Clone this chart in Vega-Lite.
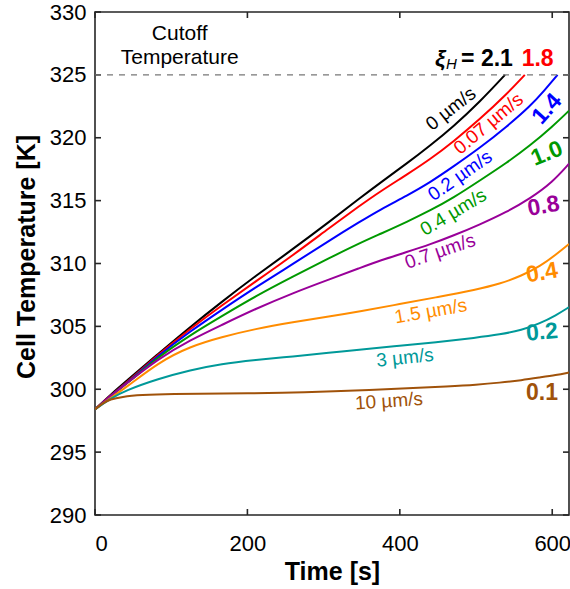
{
  "$schema": "https://vega.github.io/schema/vega-lite/v6.json",
  "width": 474,
  "height": 503,
  "autosize": {"type": "none"},
  "padding": {"left": 95, "top": 12, "right": 1, "bottom": 74},
  "background": "white",
  "config": {
    "view": {"stroke": "#262626", "strokeWidth": 1.6},
    "font": "Liberation Sans",
    "axis": {
      "grid": false, "domain": false,
      "labelFont": "Liberation Sans", "labelFontSize": 22, "labelColor": "#000000",
      "titleFont": "Liberation Sans", "titleFontSize": 25, "titleFontWeight": "bold", "titleColor": "#000000"
    },
    "text": {"font": "Liberation Sans"}
  },
  "datasets": {
    "curves": [
      {"s":"0","t":0,"T":298.4},{"s":"0","t":20,"T":299.55},{"s":"0","t":40,"T":300.6},{"s":"0","t":83,"T":302.82},{"s":"0","t":125,"T":304.96},{"s":"0","t":166,"T":306.94},{"s":"0","t":210,"T":308.98},{"s":"0","t":260,"T":311.16},{"s":"0","t":308,"T":313.34},{"s":"0","t":348,"T":315.22},{"s":"0","t":374,"T":316.41},{"s":"0","t":410,"T":317.99},{"s":"0","t":440,"T":319.39},{"s":"0","t":470,"T":320.88},{"s":"0","t":505,"T":322.86},{"s":"0","t":538,"T":325.0},
      {"s":"0.07","t":0,"T":298.4},{"s":"0.07","t":20,"T":299.5},{"s":"0.07","t":40,"T":300.45},{"s":"0.07","t":83,"T":302.77},{"s":"0.07","t":125,"T":304.81},{"s":"0.07","t":166,"T":306.65},{"s":"0.07","t":210,"T":308.53},{"s":"0.07","t":260,"T":310.67},{"s":"0.07","t":308,"T":312.85},{"s":"0.07","t":348,"T":314.62},{"s":"0.07","t":374,"T":315.72},{"s":"0.07","t":410,"T":317.1},{"s":"0.07","t":440,"T":318.3},{"s":"0.07","t":470,"T":319.68},{"s":"0.07","t":505,"T":321.47},{"s":"0.07","t":540,"T":323.45},{"s":"0.07","t":564,"T":325.0},
      {"s":"0.2","t":0,"T":298.4},{"s":"0.2","t":20,"T":299.45},{"s":"0.2","t":40,"T":300.4},{"s":"0.2","t":83,"T":302.68},{"s":"0.2","t":125,"T":304.61},{"s":"0.2","t":166,"T":306.3},{"s":"0.2","t":210,"T":308.08},{"s":"0.2","t":260,"T":309.97},{"s":"0.2","t":308,"T":311.85},{"s":"0.2","t":348,"T":313.34},{"s":"0.2","t":374,"T":314.28},{"s":"0.2","t":410,"T":315.42},{"s":"0.2","t":440,"T":316.46},{"s":"0.2","t":470,"T":317.7},{"s":"0.2","t":505,"T":319.19},{"s":"0.2","t":540,"T":320.87},{"s":"0.2","t":571,"T":322.5},{"s":"0.2","t":590,"T":323.78},{"s":"0.2","t":607,"T":325.0},
      {"s":"0.4","t":0,"T":298.4},{"s":"0.4","t":20,"T":299.45},{"s":"0.4","t":40,"T":300.35},{"s":"0.4","t":83,"T":302.58},{"s":"0.4","t":125,"T":304.31},{"s":"0.4","t":166,"T":305.8},{"s":"0.4","t":210,"T":307.38},{"s":"0.4","t":260,"T":308.97},{"s":"0.4","t":308,"T":310.45},{"s":"0.4","t":348,"T":311.64},{"s":"0.4","t":374,"T":312.34},{"s":"0.4","t":410,"T":313.33},{"s":"0.4","t":440,"T":314.22},{"s":"0.4","t":470,"T":315.21},{"s":"0.4","t":505,"T":316.6},{"s":"0.4","t":540,"T":317.99},{"s":"0.4","t":571,"T":319.38},{"s":"0.4","t":600,"T":320.87},{"s":"0.4","t":622,"T":322.15},
      {"s":"0.7","t":0,"T":298.4},{"s":"0.7","t":20,"T":299.45},{"s":"0.7","t":40,"T":300.4},{"s":"0.7","t":83,"T":302.43},{"s":"0.7","t":125,"T":303.91},{"s":"0.7","t":166,"T":305.1},{"s":"0.7","t":210,"T":306.38},{"s":"0.7","t":260,"T":307.66},{"s":"0.7","t":308,"T":308.75},{"s":"0.7","t":348,"T":309.65},{"s":"0.7","t":374,"T":310.24},{"s":"0.7","t":410,"T":310.93},{"s":"0.7","t":440,"T":311.52},{"s":"0.7","t":470,"T":312.21},{"s":"0.7","t":505,"T":313.1},{"s":"0.7","t":540,"T":314.09},{"s":"0.7","t":571,"T":315.17},{"s":"0.7","t":600,"T":316.45},{"s":"0.7","t":622,"T":317.93},
      {"s":"1.5","t":0,"T":298.4},{"s":"1.5","t":20,"T":299.3},{"s":"1.5","t":40,"T":300.1},{"s":"1.5","t":83,"T":302.13},{"s":"1.5","t":125,"T":303.41},{"s":"1.5","t":166,"T":304.15},{"s":"1.5","t":210,"T":304.8},{"s":"1.5","t":260,"T":305.34},{"s":"1.5","t":308,"T":305.79},{"s":"1.5","t":348,"T":306.19},{"s":"1.5","t":400,"T":306.78},{"s":"1.5","t":450,"T":307.33},{"s":"1.5","t":500,"T":307.92},{"s":"1.5","t":531,"T":308.37},{"s":"1.5","t":560,"T":309.03},{"s":"1.5","t":584,"T":309.77},{"s":"1.5","t":605,"T":310.71},{"s":"1.5","t":622,"T":311.55},
      {"s":"3","t":0,"T":298.4},{"s":"3","t":20,"T":299.25},{"s":"3","t":40,"T":299.9},{"s":"3","t":83,"T":300.83},{"s":"3","t":125,"T":301.52},{"s":"3","t":166,"T":302.02},{"s":"3","t":210,"T":302.32},{"s":"3","t":260,"T":302.61},{"s":"3","t":308,"T":302.91},{"s":"3","t":348,"T":303.16},{"s":"3","t":400,"T":303.46},{"s":"3","t":450,"T":303.75},{"s":"3","t":500,"T":304.1},{"s":"3","t":531,"T":304.35},{"s":"3","t":560,"T":304.7},{"s":"3","t":584,"T":305.24},{"s":"3","t":605,"T":305.88},{"s":"3","t":622,"T":306.53},
      {"s":"10","t":0,"T":298.4},{"s":"10","t":10,"T":298.88},{"s":"10","t":20,"T":299.2},{"s":"10","t":35,"T":299.4},{"s":"10","t":60,"T":299.55},{"s":"10","t":100,"T":299.63},{"s":"10","t":166,"T":299.65},{"s":"10","t":250,"T":299.72},{"s":"10","t":308,"T":299.82},{"s":"10","t":400,"T":300.04},{"s":"10","t":466,"T":300.24},{"s":"10","t":500,"T":300.36},{"s":"10","t":531,"T":300.52},{"s":"10","t":560,"T":300.72},{"s":"10","t":584,"T":300.94},{"s":"10","t":605,"T":301.13},{"s":"10","t":622,"T":301.33}
    ],
    "xticks": [{"t": 0}, {"t": 200}, {"t": 400}, {"t": 600}],
    "yticks": [{"T": 290}, {"T": 295}, {"T": 300}, {"T": 305}, {"T": 310}, {"T": 315}, {"T": 320}, {"T": 325}, {"T": 330}]
  },
  "layer": [
    {
      "data": {"name": "curves"},
      "mark": {"type": "line", "strokeWidth": 2, "interpolate": "basis", "clip": true},
      "encoding": {
        "x": {"field": "t", "type": "quantitative", "scale": {"domain": [0, 622], "nice": false, "zero": false},
              "axis": {"orient": "bottom", "values": [0, 200, 400, 600], "title": "Time [s]", "ticks": false, "labelPadding": 18, "titleY": 64, "titleBaseline": "alphabetic"}},
        "y": {"field": "T", "type": "quantitative", "scale": {"domain": [290, 330], "nice": false, "zero": false},
              "axis": {"orient": "left", "values": [290, 295, 300, 305, 310, 315, 320, 325, 330], "title": "Cell Temperature [K]", "ticks": false, "labelPadding": 9, "titleX": -60.5, "titleY": 244.5, "titleBaseline": "alphabetic", "titleAngle": -90}},
        "color": {"field": "s", "type": "nominal", "legend": null,
                  "scale": {"domain": ["0", "0.07", "0.2", "0.4", "0.7", "1.5", "3", "10"],
                            "range": ["#000000", "#FF0000", "#0000FF", "#009900", "#990099", "#FF8C00", "#009999", "#A0520A"]}},
        "order": {"field": "t", "type": "quantitative"}
      }
    },
    {
      "data": {"name": "xticks"},
      "mark": {"type": "rule", "color": "#262626", "strokeWidth": 1.6, "y2Offset": -6},
      "encoding": {"x": {"field": "t", "type": "quantitative"}, "y": {"datum": 290}, "y2": {"datum": 290}}
    },
    {
      "data": {"name": "xticks"},
      "mark": {"type": "rule", "color": "#262626", "strokeWidth": 1.6, "y2Offset": 6},
      "encoding": {"x": {"field": "t", "type": "quantitative"}, "y": {"datum": 330}, "y2": {"datum": 330}}
    },
    {
      "data": {"name": "yticks"},
      "mark": {"type": "rule", "color": "#262626", "strokeWidth": 1.6, "x2Offset": 6},
      "encoding": {"y": {"field": "T", "type": "quantitative"}, "x": {"datum": 0}, "x2": {"datum": 0}}
    },
    {
      "data": {"name": "yticks"},
      "mark": {"type": "rule", "color": "#262626", "strokeWidth": 1.6, "x2Offset": -6},
      "encoding": {"y": {"field": "T", "type": "quantitative"}, "x": {"datum": 622}, "x2": {"datum": 622}}
    },
    {
      "data": {"values": [{"T": 325}]},
      "mark": {"type": "rule", "strokeDash": [6, 6], "color": "#777777", "strokeWidth": 1.2},
      "encoding": {"y": {"field": "T", "type": "quantitative"}}
    },
    {
      "data": {"values": [{"t": 111.1, "T": 327.74, "label": "Cutoff"}, {"t": 111.1, "T": 325.89, "label": "Temperature"}]},
      "mark": {"type": "text", "fontSize": 21, "align": "center", "baseline": "alphabetic", "color": "#000000"},
      "encoding": {"x": {"field": "t", "type": "quantitative"}, "y": {"field": "T", "type": "quantitative"}, "text": {"field": "label"}}
    },
    {
      "data": {"values": [{"t": 466.9, "T": 322.29, "label": "0 µm/s"}]},
      "mark": {"type": "text", "fontSize": 19, "align": "center", "baseline": "middle", "angle": -38, "color": "#000000"},
      "encoding": {"x": {"field": "t", "type": "quantitative"}, "y": {"field": "T", "type": "quantitative"}, "text": {"field": "label"}}
    },
    {
      "data": {"values": [{"t": 516.3, "T": 321.12, "label": "0.07 µm/s"}]},
      "mark": {"type": "text", "fontSize": 19, "align": "center", "baseline": "middle", "angle": -40, "color": "#FF0000"},
      "encoding": {"x": {"field": "t", "type": "quantitative"}, "y": {"field": "T", "type": "quantitative"}, "text": {"field": "label"}}
    },
    {
      "data": {"values": [{"t": 479.1, "T": 316.99, "label": "0.2 µm/s"}]},
      "mark": {"type": "text", "fontSize": 19, "align": "center", "baseline": "middle", "angle": -35, "color": "#0000FF"},
      "encoding": {"x": {"field": "t", "type": "quantitative"}, "y": {"field": "T", "type": "quantitative"}, "text": {"field": "label"}}
    },
    {
      "data": {"values": [{"t": 470.3, "T": 314.07, "label": "0.4 µm/s"}]},
      "mark": {"type": "text", "fontSize": 19, "align": "center", "baseline": "middle", "angle": -31, "color": "#009900"},
      "encoding": {"x": {"field": "t", "type": "quantitative"}, "y": {"field": "T", "type": "quantitative"}, "text": {"field": "label"}}
    },
    {
      "data": {"values": [{"t": 452.8, "T": 310.97, "label": "0.7 µm/s"}]},
      "mark": {"type": "text", "fontSize": 19, "align": "center", "baseline": "middle", "angle": -19, "color": "#990099"},
      "encoding": {"x": {"field": "t", "type": "quantitative"}, "y": {"field": "T", "type": "quantitative"}, "text": {"field": "label"}}
    },
    {
      "data": {"values": [{"t": 440.6, "T": 306.2, "label": "1.5 µm/s"}]},
      "mark": {"type": "text", "fontSize": 19, "align": "center", "baseline": "middle", "angle": -10, "color": "#FF8C00"},
      "encoding": {"x": {"field": "t", "type": "quantitative"}, "y": {"field": "T", "type": "quantitative"}, "text": {"field": "label"}}
    },
    {
      "data": {"values": [{"t": 406.8, "T": 302.5, "label": "3 µm/s"}]},
      "mark": {"type": "text", "fontSize": 19, "align": "center", "baseline": "middle", "angle": -6, "color": "#009999"},
      "encoding": {"x": {"field": "t", "type": "quantitative"}, "y": {"field": "T", "type": "quantitative"}, "text": {"field": "label"}}
    },
    {
      "data": {"values": [{"t": 385.8, "T": 299.05, "label": "10 µm/s"}]},
      "mark": {"type": "text", "fontSize": 19, "align": "center", "baseline": "middle", "angle": -4, "color": "#A0520A"},
      "encoding": {"x": {"field": "t", "type": "quantitative"}, "y": {"field": "T", "type": "quantitative"}, "text": {"field": "label"}}
    },
    {
      "data": {"values": [{"t": 593, "T": 322.29, "label": "1.4"}]},
      "mark": {"type": "text", "fontSize": 23, "fontWeight": "bold", "align": "center", "baseline": "middle", "angle": -48, "color": "#0000FF"},
      "encoding": {"x": {"field": "t", "type": "quantitative"}, "y": {"field": "T", "type": "quantitative"}, "text": {"field": "label"}}
    },
    {
      "data": {"values": [{"t": 593, "T": 318.74, "label": "1.0"}]},
      "mark": {"type": "text", "fontSize": 23, "fontWeight": "bold", "align": "center", "baseline": "middle", "angle": -22, "color": "#009900"},
      "encoding": {"x": {"field": "t", "type": "quantitative"}, "y": {"field": "T", "type": "quantitative"}, "text": {"field": "label"}}
    },
    {
      "data": {"values": [{"t": 588.6, "T": 314.55, "label": "0.8"}]},
      "mark": {"type": "text", "fontSize": 23, "fontWeight": "bold", "align": "center", "baseline": "middle", "angle": -10, "color": "#990099"},
      "encoding": {"x": {"field": "t", "type": "quantitative"}, "y": {"field": "T", "type": "quantitative"}, "text": {"field": "label"}}
    },
    {
      "data": {"values": [{"t": 586.5, "T": 309.25, "label": "0.4"}]},
      "mark": {"type": "text", "fontSize": 23, "fontWeight": "bold", "align": "center", "baseline": "middle", "angle": -10, "color": "#FF8C00"},
      "encoding": {"x": {"field": "t", "type": "quantitative"}, "y": {"field": "T", "type": "quantitative"}, "text": {"field": "label"}}
    },
    {
      "data": {"values": [{"t": 586.5, "T": 304.53, "label": "0.2"}]},
      "mark": {"type": "text", "fontSize": 23, "fontWeight": "bold", "align": "center", "baseline": "middle", "angle": -5, "color": "#009999"},
      "encoding": {"x": {"field": "t", "type": "quantitative"}, "y": {"field": "T", "type": "quantitative"}, "text": {"field": "label"}}
    },
    {
      "data": {"values": [{"t": 586.5, "T": 299.74, "label": "0.1"}]},
      "mark": {"type": "text", "fontSize": 23, "fontWeight": "bold", "align": "center", "baseline": "middle", "color": "#A0520A"},
      "encoding": {"x": {"field": "t", "type": "quantitative"}, "y": {"field": "T", "type": "quantitative"}, "text": {"field": "label"}}
    },
    {
      "data": {"values": [{"t": 446.2, "T": 325.73, "label": "ξ"}]},
      "mark": {"type": "text", "fontSize": 23, "fontWeight": "bold", "fontStyle": "italic", "align": "left", "baseline": "alphabetic", "color": "#000000"},
      "encoding": {"x": {"field": "t", "type": "quantitative"}, "y": {"field": "T", "type": "quantitative"}, "text": {"field": "label"}}
    },
    {
      "data": {"values": [{"t": 460.7, "T": 325.45, "label": "H"}]},
      "mark": {"type": "text", "fontSize": 15, "fontStyle": "italic", "align": "left", "baseline": "alphabetic", "color": "#000000"},
      "encoding": {"x": {"field": "t", "type": "quantitative"}, "y": {"field": "T", "type": "quantitative"}, "text": {"field": "label"}}
    },
    {
      "data": {"values": [{"t": 480.4, "T": 325.73, "label": "= 2.1"}]},
      "mark": {"type": "text", "fontSize": 23, "fontWeight": "bold", "align": "left", "baseline": "alphabetic", "color": "#000000"},
      "encoding": {"x": {"field": "t", "type": "quantitative"}, "y": {"field": "T", "type": "quantitative"}, "text": {"field": "label"}}
    },
    {
      "data": {"values": [{"t": 559.9, "T": 325.73, "label": "1.8"}]},
      "mark": {"type": "text", "fontSize": 23, "fontWeight": "bold", "align": "left", "baseline": "alphabetic", "color": "#FF0000"},
      "encoding": {"x": {"field": "t", "type": "quantitative"}, "y": {"field": "T", "type": "quantitative"}, "text": {"field": "label"}}
    }
  ]
}
